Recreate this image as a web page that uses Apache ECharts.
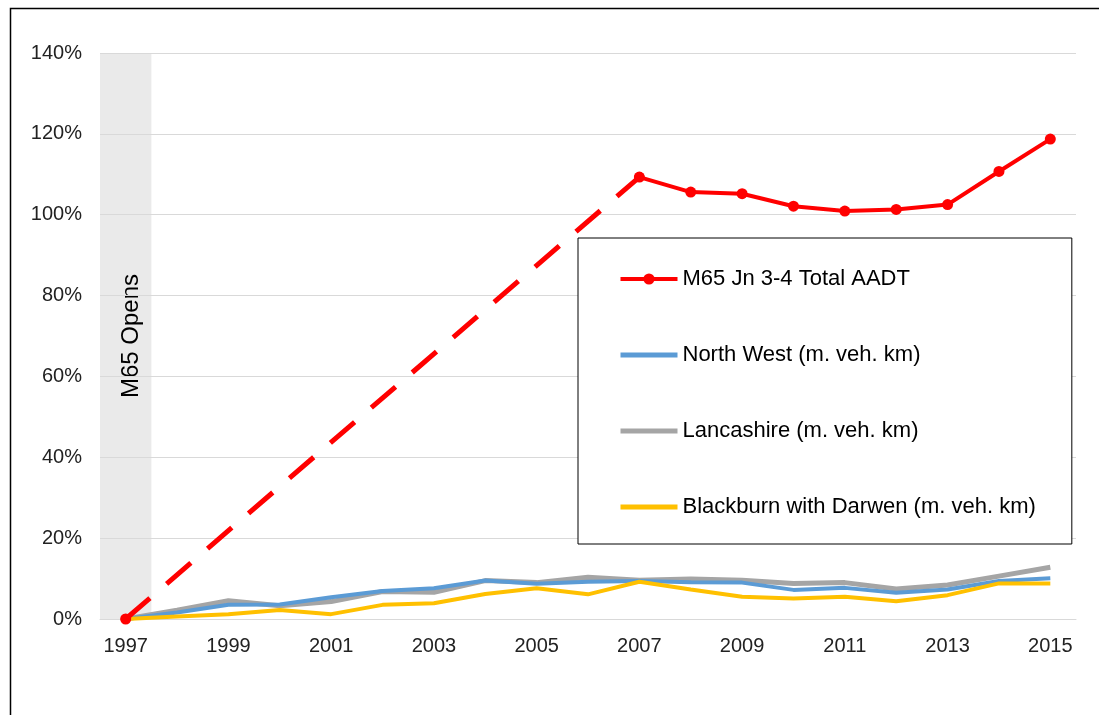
<!DOCTYPE html>
<html lang="en">
<head>
    <meta charset="UTF-8">
    <script src="https://cdn.jsdelivr.net/npm/echarts@6/dist/echarts.min.js"></script>
    <style>
        html, body { margin: 0; padding: 0; background: #fff; }
        #main { width: 1099px; height: 715px; }
    </style>
</head>
<body>
    <div id="main"></div>
</body>
<script>
    var years = ['1997','1998','1999','2000','2001','2002','2003','2004','2005','2006',
                 '2007','2008','2009','2010','2011','2012','2013','2014','2015'];
    // M65 traffic: only 1997 and 2007 onwards known, gap drawn dashed
    var m65Dashed = [0, null, null, null, null, null, null, null, null, null, 109.3,
                     null, null, null, null, null, null, null, null];
    var m65 = [0, null, null, null, null, null, null, null, null, null,
               109.3, 105.6, 105.2, 102.1, 100.9, 101.3, 102.5, 110.7, 118.7];
    var northWest = [0, 1.6, 3.5, 3.6, 5.4, 6.9, 7.6, 9.5, 8.7, 9.2,
                     9.4, 9.1, 9.0, 7.2, 7.7, 6.5, 7.3, 9.4, 10.1];
    var lancashire = [0, 2.2, 4.5, 3.3, 4.3, 6.8, 6.6, 9.5, 9.0, 10.3,
                      9.6, 9.9, 9.6, 8.8, 9.0, 7.4, 8.4, 10.6, 12.8];
    var blackburn = [0, 0.6, 1.2, 2.2, 1.2, 3.5, 3.9, 6.2, 7.6, 6.1,
                     9.2, 7.3, 5.5, 5.1, 5.5, 4.4, 5.9, 8.8, 8.8];
    var openBand = [140, null, null, null, null, null, null, null, null, null,
                    null, null, null, null, null, null, null, null, null];

    var font = 'Liberation Sans';
    var myChart = echarts.init(document.getElementById('main'));

    var option = {
        animation: false,
        backgroundColor: '#fff',
        textStyle: { fontFamily: font },
        graphic: [{
            type: 'rect',
            shape: { x: 10.5, y: 8.5, width: 1200, height: 800 },
            style: { fill: 'none', stroke: '#000', lineWidth: 1.5 },
            silent: true
        }],
        grid: { left: 100, right: 23, top: 53, bottom: 96 },
        legend: {
            orient: 'vertical',
            left: 578,
            top: 238,
            padding: [30, 36, 26, 40],
            itemGap: 54,
            itemWidth: 57,
            itemHeight: 14,
            backgroundColor: '#fff',
            borderColor: '#000',
            borderWidth: 1,
            textStyle: { fontFamily: font, fontSize: 22, color: '#000' },
            data: [
                { name: 'M65 Jn 3-4 Total AADT', lineStyle: { width: 4 } },
                { name: 'North West (m. veh. km)', itemStyle: { opacity: 0 }, lineStyle: { width: 5 } },
                { name: 'Lancashire (m. veh. km)', itemStyle: { opacity: 0 }, lineStyle: { width: 5 } },
                { name: 'Blackburn with Darwen (m. veh. km)', itemStyle: { opacity: 0 }, lineStyle: { width: 5 } }
            ]
        },
        xAxis: {
            type: 'category',
            data: years,
            boundaryGap: true,
            axisLine: { lineStyle: { color: '#D9D9D9', width: 1 } },
            axisTick: { alignWithLabel: true, interval: 0, length: 5, lineStyle: { color: '#D9D9D9' } },
            axisLabel: { interval: 1, margin: 17, fontSize: 20, color: '#222' }
        },
        yAxis: {
            type: 'value',
            min: 0,
            max: 140,
            interval: 20,
            axisLine: { show: false },
            axisTick: { show: false },
            axisLabel: { formatter: '{value}%', margin: 18, fontSize: 20, color: '#222' },
            splitLine: { lineStyle: { color: '#D9D9D9', width: 1 } }
        },
        series: [
            {
                name: 'band',
                type: 'bar',
                data: openBand,
                barWidth: '100%',
                z: -1,
                silent: true,
                itemStyle: { color: '#EAEAEA' },
                label: {
                    show: true,
                    formatter: 'M65 Opens',
                    position: 'inside',
                    rotate: 90,
                    offset: [0, 6],
                    fontSize: 24,
                    color: '#000'
                }
            },
            {
                name: 'M65 dashed',
                type: 'line',
                data: m65Dashed,
                connectNulls: true,
                symbol: 'circle',
                symbolSize: 10,
                showSymbol: true,
                itemStyle: { color: '#FF0000' },
                lineStyle: { color: '#FF0000', width: 5, type: [32, 22] },
                z: 5
            },
            {
                name: 'North West (m. veh. km)',
                type: 'line',
                data: northWest,
                symbol: 'none',
                itemStyle: { color: '#5B9BD5' },
                lineStyle: { color: '#5B9BD5', width: 4 },
                z: 3
            },
            {
                name: 'Lancashire (m. veh. km)',
                type: 'line',
                data: lancashire,
                symbol: 'none',
                itemStyle: { color: '#A5A5A5' },
                lineStyle: { color: '#A5A5A5', width: 5 },
                z: 2
            },
            {
                name: 'Blackburn with Darwen (m. veh. km)',
                type: 'line',
                data: blackburn,
                symbol: 'none',
                itemStyle: { color: '#FFC000' },
                lineStyle: { color: '#FFC000', width: 4 },
                z: 4
            },
            {
                name: 'M65 Jn 3-4 Total AADT',
                type: 'line',
                data: m65,
                symbol: 'circle',
                symbolSize: 11,
                itemStyle: { color: '#FF0000' },
                lineStyle: { color: '#FF0000', width: 4 },
                z: 6
            }
        ]
    };
    myChart.setOption(option);
</script>
</html>
